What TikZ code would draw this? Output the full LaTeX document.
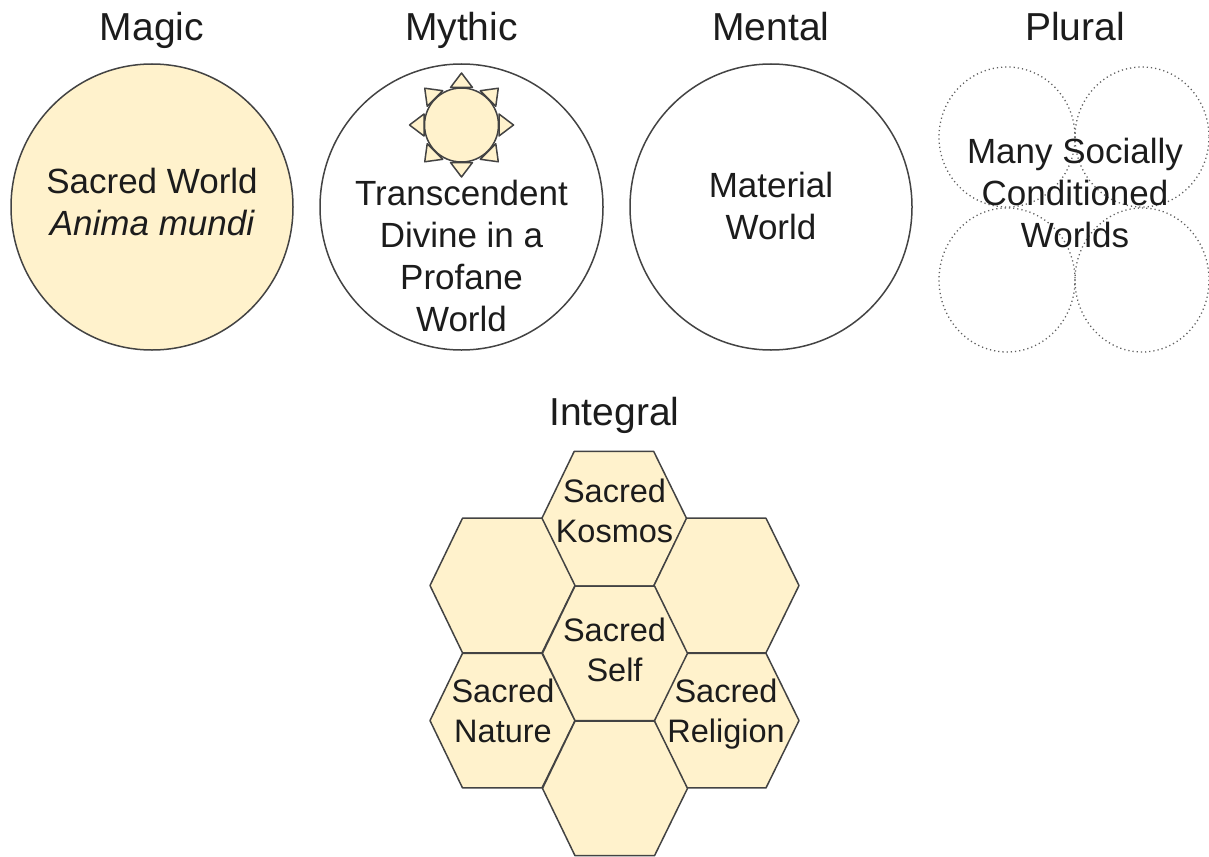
\documentclass[tikz,border=0pt]{standalone}
\usepackage{fontspec}
\setmainfont{Liberation Sans}
\definecolor{hexfill}{HTML}{FFF2CC}
\definecolor{edge}{HTML}{434343}
\definecolor{ink}{HTML}{1C1C1C}
\tikzset{
  outline/.style={draw=edge,line width=1.5pt},
  sunfill/.style={outline,fill=hexfill,line join=round},
  dotcircle/.style={draw=edge!85,line width=1.3pt,dash pattern=on 1.2pt off 3pt},
  title/.style={text=ink,inner sep=0pt,anchor=base,font=\fontsize{39}{44}\selectfont},
  label/.style={text=ink,inner sep=0pt,align=center,font=\fontsize{35}{42}\selectfont},
  hexlabel/.style={text=ink,inner sep=0pt,align=center,font=\fontsize{32.5}{40}\selectfont},
}
\newcommand{\hexat}[2]{%
  \path[sunfill] (#1-72.5,#2) -- (#1-40,#2-67.3) -- (#1+39.5,#2-67.3) -- (#1+72.5,#2)
    -- (#1+39.5,#2+67.3) -- (#1-40,#2+67.3) -- cycle;}
\begin{document}
\begin{tikzpicture}[x=1pt,y=-1pt]
\useasboundingbox (0,0) rectangle (1209,856);
% big circles
\path[sunfill] (152,207) ellipse [x radius=141,y radius=143];
\path[outline] (461.5,207) ellipse [x radius=141.5,y radius=143];
\path[outline] (771,207) ellipse [x radius=141,y radius=143];
% sun rays
\foreach \a in {0,45,...,315}{
  \path[sunfill,shift={(461.5,125)},rotate=\a] (37.5,-11) -- (52,0) -- (37.5,11) -- cycle;
}
\path[sunfill] (461.5,125) circle [radius=37];
% plural circles
\path[dotcircle] (1007,137) ellipse [x radius=68,y radius=70];
\path[dotcircle] (1142,137) ellipse [x radius=67,y radius=70];
\path[dotcircle] (1007,280) ellipse [x radius=68,y radius=72];
\path[dotcircle] (1142,280) ellipse [x radius=67,y radius=72];
% hexagons
\hexat{614.2}{518.7}
\hexat{502.5}{585.5}
\hexat{726.5}{585.5}
\hexat{502.5}{720.6}
\hexat{726.5}{720.6}
\hexat{615}{653.3}
\hexat{615}{788.4}
% titles
\node[title] (magic) at (152,41) {Magic};
\node[title] (mythic) at (461.5,41) {Mythic};
\node[title] (mental) at (771,41) {Mental};
\node[title] (plural) at (1075,41) {Plural};
\node[title] (integral) at (614.5,425) {Integral};
% labels
\node[label] (sacredworld) at (152,202) {Sacred World\\\itshape Anima mundi};
\node[label] (transcendent) at (461.5,256) {Transcendent\\Divine in a\\Profane\\World};
\node[label] (material) at (771,206) {Material\\World};
\node[label] (many) at (1075,193) {Many Socially\\Conditioned\\Worlds};
\node[hexlabel] (kosmos) at (614.5,511) {Sacred\\Kosmos};
\node[hexlabel] (self) at (614.5,650) {Sacred\\Self};
\node[hexlabel] (nature) at (503,711) {Sacred\\Nature};
\node[hexlabel] (religion) at (726,714) {Sacred\\Religion};
\end{tikzpicture}
\end{document}
